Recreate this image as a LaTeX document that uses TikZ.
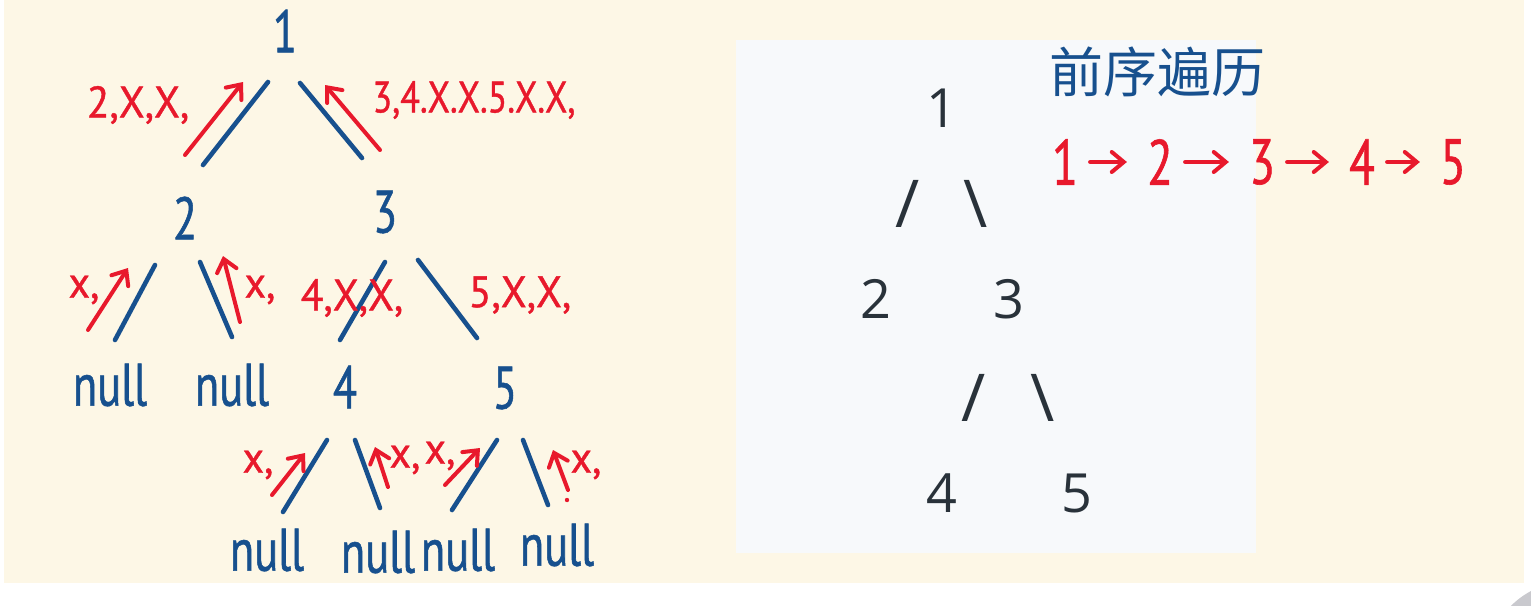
\documentclass[tikz,border=0pt]{standalone}
\usepackage{fontspec}
\usepackage{tikz}
\usetikzlibrary{
  arrows.meta,
  positioning,
  calc
}
\setmainfont{Open Sans}
\newfontfamily\handfont[FakeStretch=0.74, FakeBold=0.9]{PT Sans}
\newfontfamily\markfont[FakeStretch=0.95, FakeBold=0.9]{PT Sans}
\newfontfamily\marknarrow[FakeStretch=0.82, FakeBold=0.9]{PT Sans}
\newfontfamily\cjkfont{Noto Sans CJK SC}
\definecolor{ptInk}{HTML}{17508E}
\definecolor{ptRed}{HTML}{E8192C}
\definecolor{ptCream}{HTML}{FDF7E6}
\definecolor{ptPanel}{HTML}{F7F9FB}
\definecolor{ptText}{HTML}{29323A}
\definecolor{ptKnob}{HTML}{C9C9CE}
\tikzset{
  hand/.style={inner sep=0pt, text=ptInk, font=\handfont\fontsize{60}{60}\selectfont},
  leaf/.style={hand},
  ptlabel/.style={inner sep=0pt, text=ptRed, font=\markfont\fontsize{44}{44}\selectfont},
  longlabel/.style={ptlabel, font=\marknarrow\fontsize{44}{44}\selectfont},
  seqnum/.style={hand, text=ptRed, font=\handfont\fontsize{64}{64}\selectfont},
  cntitle/.style={inner sep=0pt, text=ptInk, font=\cjkfont\fontsize{54}{54}\selectfont},
  branch/.style={ptInk, line width=4.6pt, line cap=round},
  backtrack/.style={-{Straight Barb[length=12pt, width=20pt, line cap=round]}, ptRed, line width=4pt, line cap=round},
  seqarrow/.style={backtrack, shorten <=12pt, shorten >=20pt},
  asciinode/.style={inner sep=0pt, text=ptText, font=\fontsize{54}{54}\selectfont},
  asciislash/.style={asciinode, font=\fontsize{66}{66}\selectfont}
}

\begin{document}
\begin{tikzpicture}[x=1pt, y=-1pt, on grid]
  % page
  \useasboundingbox (0,0) rectangle (1531,605);
  \fill[white] (0,0) rectangle (1531,605);
  \fill[ptCream] (4,0) rectangle (1524,583);
  \fill[ptPanel] (736,40) rectangle (1256,553);
  \begin{scope}
    \clip (0,0) rectangle (1531,605);
    \fill[ptKnob] (1568,662) circle[radius=80];
  \end{scope}

  % hand-drawn tree
  \node[hand] (n1) at (285,31) {1};
  \node[hand, below left=187pt and 100pt of n1] (n2) {2};
  \node[hand, below right=181pt and 100pt of n1] (n3) {3};
  \node[leaf, below left=167pt and 75pt of n2] (nl1) {null};
  \node[leaf, below right=167pt and 47pt of n2] (nl2) {null};
  \node[hand, below left=175pt and 40pt of n3] (n4) {4};
  \node[hand, below right=176pt and 120pt of n3] (n5) {5};
  \node[leaf, below left=163pt and 78pt of n4] (nl3) {null};
  \node[leaf, below right=165pt and 33pt of n4] (nl4) {null};
  \node[leaf, below left=162pt and 47pt of n5] (nl5) {null};
  \node[leaf, below right=157pt and 52pt of n5] (nl6) {null};

  \draw[branch] ($(n1)+(-17,51)$) -- ($(n2)+(18,-53)$);
  \draw[branch] ($(n1)+(15,52)$) -- ($(n3)+(-23,-54)$);
  \draw[branch] ($(n2)+(-30,47)$) -- ($(nl1)+(5,-45)$);
  \draw[branch] ($(n2)+(15,44)$) -- ($(nl2)+(0,-48)$);
  \draw[branch] ($(n3)+(0,50)$) -- ($(n4)+(-5,-47)$);
  \draw[branch] ($(n3)+(33,48)$) -- ($(n5)+(-28,-50)$);
  \draw[branch] ($(n4)+(-18,53)$) -- ($(nl3)+(16,-38)$);
  \draw[branch] ($(n4)+(10,53)$) -- ($(nl4)+(2,-44)$);
  \draw[branch] ($(n5)+(-8,52)$) -- ($(nl5)+(-6,-40)$);
  \draw[branch] ($(n5)+(18,52)$) -- ($(nl6)+(-9,-40)$);

  \draw[backtrack] ($(n2)+(0,-63)$) -- ($(n1)+(-42,51)$);
  \draw[backtrack] ($(n3)+(-5,-62)$) -- ($(n1)+(40,54)$);
  \draw[backtrack] ($(nl1)+(-22,-55)$) -- ($(n2)+(-57,50)$);
  \draw[backtrack] ($(nl2)+(8,-63)$) -- ($(n2)+(38,38)$);
  \draw[backtrack] ($(nl3)+(5,-55)$) -- ($(n4)+(-40,66)$);
  \draw[backtrack] ($(nl4)+(10,-65)$) -- ($(n4)+(30,60)$);
  \draw[backtrack] ($(nl5)+(-13,-65)$) -- ($(n5)+(-25,60)$);
  \draw[backtrack] ($(nl6)+(11,-55)$) -- ($(n5)+(48,62)$);
  \fill[ptRed] ($(nl6)+(10,-45)$) circle[radius=2.2];

  \node[ptlabel] (t12) at (138,105) {2,X,X,};
  \node[longlabel] (t13) at (474,100) {3,4.X.X.5.X.X,};
  \node[ptlabel] (t2a) at (84,290) {x,};
  \node[ptlabel] (t2b) at (260,290) {x,};
  \node[ptlabel] (t34) at (352,298) {4,X,X,};
  \node[ptlabel] (t35) at (520,295) {5,X,X,};
  \node[ptlabel] (t4a) at (258,465) {x,};
  \node[ptlabel] (t4b) at (405,460) {x,};
  \node[ptlabel] (t5a) at (440,456) {x,};
  \node[ptlabel] (t5b) at (586,465) {x,};

  % ascii tree in the panel
  \node[asciinode] (a1) at (942,108) {1};
  \node[asciislash] (a1l) at (908,204) {/};
  \node[asciislash] (a1r) at (976,204) {\textbackslash};
  \node[asciinode] (a2) at (876,299) {2};
  \node[asciinode] (a3) at (1009,299) {3};
  \node[asciislash] (a3l) at (974,398) {/};
  \node[asciislash] (a3r) at (1043,398) {\textbackslash};
  \node[asciinode] (a4) at (942,493) {4};
  \node[asciinode] (a5) at (1077,493) {5};

  % preorder sequence
  \node[cntitle] (title) at (1157,72) {前序遍历};
  \node[seqnum] (s1) at (1065,162) {1};
  \node[seqnum, right=95pt of s1] (s2) {2};
  \node[seqnum, right=102pt of s2] (s3) {3};
  \node[seqnum, right=100pt of s3] (s4) {4};
  \node[seqnum, right=91pt of s4] (s5) {5};
  \draw[seqarrow] (s1) -- (s2);
  \draw[seqarrow] (s2) -- (s3);
  \draw[seqarrow] (s3) -- (s4);
  \draw[seqarrow] (s4) -- (s5);
\end{tikzpicture}
\end{document}
